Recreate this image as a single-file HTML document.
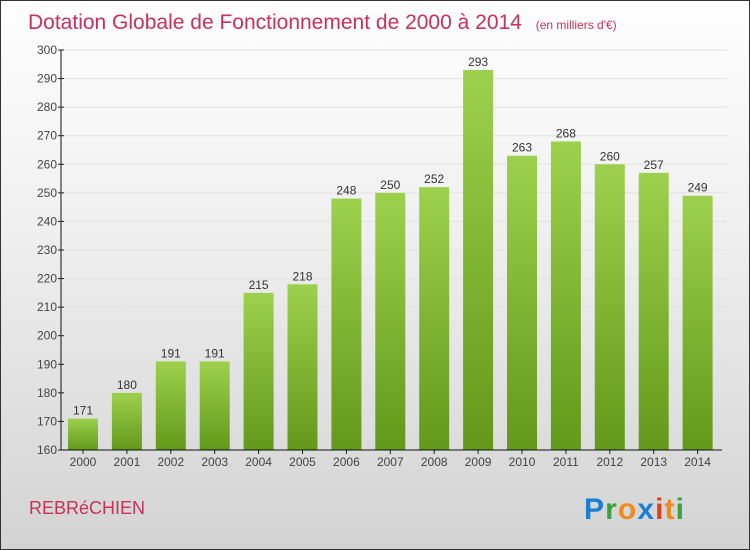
<!DOCTYPE html>
<html><head><meta charset="utf-8"><style>
body{margin:0}
#c{position:relative;width:748px;height:548px;border:1px solid #333;background:linear-gradient(#fefefe,#f0f0f0 40%,#d3d3d3);font-family:"Liberation Sans","DejaVu Sans",sans-serif;overflow:hidden}
</style></head><body>
<div id="c">
<svg id="s" width="748" height="548">
<defs><linearGradient id="g" x1="0" y1="0" x2="0" y2="1"><stop offset="0" stop-color="#9dd14d"/><stop offset="1" stop-color="#62991a"/></linearGradient></defs>
<text x="27" y="28" font-size="21" fill="#c8305e">Dotation Globale de Fonctionnement de 2000 à 2014 <tspan font-size="12" dx="8">(en milliers d'€)</tspan></text>
<text x="28" y="513" font-size="18" fill="#c8305e">REBRéCHIEN</text>
<g font-size="30" font-weight="bold"><text x="583" y="518" textLength="100"><tspan fill="#1a7fd4">P</tspan><tspan fill="#3aa040">r</tspan><tspan fill="#f08a1c">o</tspan><tspan fill="#1a7fd4">x</tspan><tspan fill="#e04020">i</tspan><tspan fill="#f08a1c">t</tspan><tspan fill="#3aa040">i</tspan></text></g>
<g id="plot"></g>
</svg></div>
<script>
const years=["2000","2001","2002","2003","2004","2005","2006","2007","2008","2009","2010","2011","2012","2013","2014"];
const values=[171,180,191,191,215,218,248,250,252,293,263,268,260,257,249];
const yTicks=[160,170,180,190,200,210,220,230,240,250,260,270,280,290,300];
const ns="http://www.w3.org/2000/svg",p=document.getElementById('plot');
const y0=449,yScale=v=>y0-(v-160)*400/140,xc=i=>82+i*43.9;
function mk(t,a){const e=document.createElementNS(ns,t);for(const k in a)e.setAttribute(k,a[k]);p.appendChild(e);return e;}
yTicks.forEach(v=>{const y=yScale(v);
 const l=mk('line',{x1:60,x2:726,y1:y,y2:y,stroke:'#e2e2e2'});
 const k=mk('line',{x1:57,x2:63,y1:y,y2:y,stroke:'#222'});
 const t=mk('text',{x:56,y:y+4,'text-anchor':'end','font-size':12,fill:'#444'});t.textContent=v;});
values.forEach((v,i)=>{const x=xc(i),y=yScale(v);
 const r=mk('rect',{x:x-15,y:y,width:30,height:y0-y,fill:'url(#g)'});
 const t=mk('text',{x:x,y:y-4,'text-anchor':'middle','font-size':12,fill:'#333'});t.textContent=v;
 const k=mk('line',{x1:x,x2:x,y1:y0,y2:y0+4,stroke:'#222'});
 const l=mk('text',{x:x,y:y0+16,'text-anchor':'middle','font-size':12,fill:'#444'});l.textContent=years[i];});
const ya=mk('line',{x1:60,x2:60,y1:49,y2:y0,stroke:'#111'});
const xa=mk('line',{x1:60,x2:721,y1:y0,y2:y0,stroke:'#111'});
</script></body></html>
